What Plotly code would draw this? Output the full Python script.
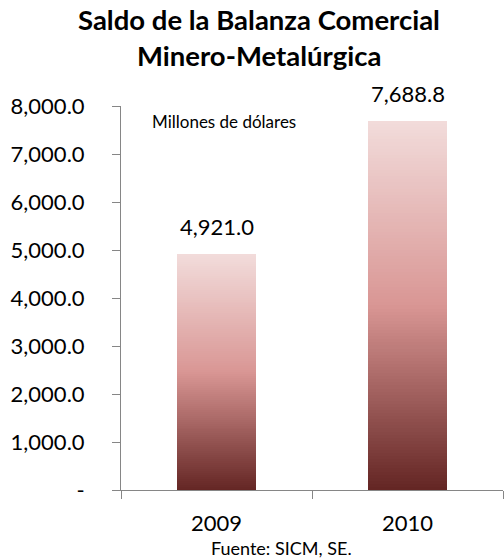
import plotly.graph_objects as go

years = ["2009", "2010"]
saldo = [4921.0, 7688.8]
value_labels = ["4,921.0", "7,688.8"]
y_tick_vals = [0, 1000, 2000, 3000, 4000, 5000, 6000, 7000, 8000]
y_tick_text = ["-", "1,000.0", "2,000.0", "3,000.0", "4,000.0",
               "5,000.0", "6,000.0", "7,000.0", "8,000.0"]

FONT = "Lato"
N_SEG = 120
# gradient stops: bottom -> top
stops = [(0.0, (0x63, 0x25, 0x23)), (0.5, (0xD9, 0x96, 0x94)), (1.0, (0xF2, 0xDC, 0xDB))]


def grad(t):
    for (t0, c0), (t1, c1) in zip(stops[:-1], stops[1:]):
        if t <= t1:
            f = (t - t0) / (t1 - t0)
            return "rgb(%d,%d,%d)" % tuple(round(a + (b - a) * f) for a, b in zip(c0, c1))
    return "rgb(%d,%d,%d)" % stops[-1][1]


fig = go.Figure()
for i in range(N_SEG):
    t = (i + 0.5) / N_SEG
    fig.add_trace(go.Bar(
        x=years,
        y=[v / N_SEG for v in saldo],
        marker=dict(color=grad(t), line=dict(width=0)),
        width=0.41,
        hoverinfo="skip",
        showlegend=False,
    ))

annotations = [
    dict(x=idx, y=v, xref="x", yref="y", text=lbl, showarrow=False,
         xanchor="center", yanchor="bottom", yshift=12,
         font=dict(family=FONT, size=22, color="black"))
    for idx, (v, lbl) in enumerate(zip(saldo, value_labels))
]
annotations += [
    dict(text="<b>Saldo de la Balanza Comercial</b>", xref="paper", yref="paper",
         x=(259 - 121) / 382, y=(490 - 19) / 384, xanchor="center", yanchor="middle",
         showarrow=False, font=dict(family=FONT, size=27.5, color="black")),
    dict(text="<b>Minero-Metalúrgica</b>", xref="paper", yref="paper",
         x=(259 - 121) / 382, y=(490 - 55) / 384, xanchor="center", yanchor="middle",
         showarrow=False, font=dict(family=FONT, size=27.5, color="black")),
    dict(text="Millones de dólares", xref="paper", yref="paper",
         x=(224 - 121) / 382, y=(490 - 122) / 384, xanchor="center", yanchor="middle",
         showarrow=False, font=dict(family=FONT, size=17, color="black")),
    dict(text="Fuente: SICM, SE.", xref="paper", yref="paper",
         x=(281 - 121) / 382, y=(490 - 548) / 384, xanchor="center", yanchor="middle",
         showarrow=False, font=dict(family=FONT, size=18, color="black")),
]

fig.update_layout(
    width=504, height=560,
    barmode="stack", bargap=0.59,
    paper_bgcolor="white", plot_bgcolor="white",
    margin=dict(l=121, r=1, t=106, b=70),
    font=dict(family=FONT, color="black"),
    xaxis=dict(
        type="category", range=[-0.5, 1.5], showline=True, linecolor="#868686", linewidth=1,
        ticks="outside", ticklen=8, tickcolor="#868686", tickson="boundaries",
        tickfont=dict(family=FONT, size=22, color="black"), tickangle=0,
        showgrid=False, zeroline=False, ticklabelstandoff=14, automargin=False,
    ),
    yaxis=dict(
        range=[0, 8000], showline=True, linecolor="#868686", linewidth=1,
        ticks="outside", ticklen=8, tickcolor="#868686",
        tickvals=y_tick_vals, ticktext=y_tick_text,
        tickfont=dict(family=FONT, size=22, color="black"),
        showgrid=False, zeroline=False, ticklabelstandoff=23, automargin=False,
    ),
    annotations=annotations,
)

fig.write_html("out.html", config={"displayModeBar": False},
               post_script="document.body.style.margin='0';")
